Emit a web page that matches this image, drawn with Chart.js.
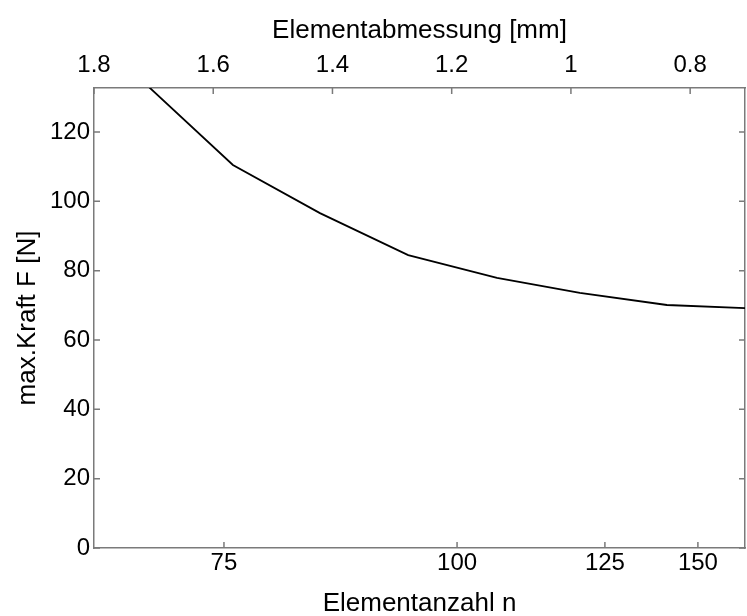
<!DOCTYPE html>
<html>
<head>
<meta charset="utf-8">
<title>max. Kraft über Elementanzahl</title>
<script src="https://cdn.jsdelivr.net/npm/chart.js@4/dist/chart.umd.min.js"></script>
<style>
    body { margin: 0; background: #fff; }
    #wrap { width: 747px; height: 616px; }
</style>
</head>
<body>
<div id="wrap"><canvas id="kraft"></canvas></div>
<script>
/* ==================
    DATEN
================== */

// Elementabmessung [mm] (obere Achse) und max. Kraft F [N]
const elementGroesse = [1.708, 1.567, 1.421, 1.273, 1.124, 0.985, 0.839, 0.708];
const maxKraft = [133.0, 110.5, 96.6, 84.5, 77.9, 73.6, 70.1, 69.2];

// Untere Achse: Elementanzahl n, an welcher Abmessung der Strich sitzt
const anzahlTicks = [75, 100, 125, 150];
const anzahlTickLage = [1.582, 1.191, 0.943, 0.787];

const groesseTicks = [1.8, 1.6, 1.4, 1.2, 1, 0.8];
const kraftTicks = [0, 20, 40, 60, 80, 100, 120];

const xMin = 0.708, xMax = 1.8;
const yMin = 0, yMax = 132.7;

/* ==================
    HILFSSACHEN
================== */

const familie = '"Liberation Sans", Arial, Helvetica, sans-serif';
const tickSchrift = { family: familie, size: 24 };
const titelSchrift = { family: familie, size: 26 };
const achsFarbe = '#7a7a7a';

// Striche nach innen wie bei MATLAB
const innenTicks = {
    id: 'innenTicks',
    afterDatasetsDraw(chart) {
        const { ctx, chartArea: a, scales } = chart;
        const len = 6;
        ctx.save();
        ctx.strokeStyle = achsFarbe;
        ctx.lineWidth = 1.5;
        ctx.beginPath();
        scales.y.ticks.forEach(t => {
            const py = scales.y.getPixelForValue(t.value);
            ctx.moveTo(a.left, py); ctx.lineTo(a.left + len, py);
            ctx.moveTo(a.right, py); ctx.lineTo(a.right - len, py);
        });
        scales.x.ticks.forEach(t => {
            const px = scales.x.getPixelForValue(t.value);
            ctx.moveTo(px, a.bottom); ctx.lineTo(px, a.bottom - len);
        });
        scales.xTop.ticks.forEach(t => {
            const px = scales.xTop.getPixelForValue(t.value);
            ctx.moveTo(px, a.top); ctx.lineTo(px, a.top + len);
        });
        ctx.stroke();
        ctx.restore();
    }
};

const ohneGitter = { drawOnChartArea: false, drawTicks: false };
const rand = { display: true, color: achsFarbe, width: 1.5 };

/* ==================
    GRAFIK
================== */

new Chart(document.getElementById('kraft').getContext('2d'), {
    type: 'line',
    data: {
        datasets: [{
            label: 'max. Kraft F',
            data: elementGroesse.map((g, i) => ({ x: g, y: maxKraft[i] })),
            borderColor: '#000',
            borderWidth: 1.8,
            pointRadius: 0,
            tension: 0,
            fill: false,
            xAxisID: 'x',
            yAxisID: 'y'
        }]
    },
    options: {
        responsive: true,
        maintainAspectRatio: false,
        animation: false,
        layout: { padding: 0 },
        plugins: {
            legend: { display: false },
            tooltip: { enabled: false }
        },
        scales: {
            x: {
                type: 'linear',
                position: 'bottom',
                reverse: true,
                min: xMin,
                max: xMax,
                grid: ohneGitter,
                border: rand,
                afterBuildTicks: s => { s.ticks = anzahlTickLage.map(v => ({ value: v })); },
                afterFit: s => { s.height = 68; },
                ticks: {
                    color: '#000',
                    font: tickSchrift,
                    padding: 1,
                    maxRotation: 0,
                    autoSkip: false,
                    callback: (v, i) => anzahlTicks[i]
                },
                title: {
                    display: true,
                    text: 'Elementanzahl n',
                    color: '#000',
                    font: titelSchrift,
                    padding: { top: 0, bottom: -3 }
                }
            },
            xTop: {
                type: 'linear',
                position: 'top',
                reverse: true,
                min: xMin,
                max: xMax,
                grid: ohneGitter,
                border: rand,
                afterBuildTicks: s => { s.ticks = groesseTicks.map(v => ({ value: v })); },
                afterFit: s => { s.height = 88; },
                ticks: {
                    color: '#000',
                    font: tickSchrift,
                    padding: 8,
                    maxRotation: 0,
                    autoSkip: false,
                    callback: v => String(v)
                },
                title: {
                    display: true,
                    text: 'Elementabmessung [mm]',
                    color: '#000',
                    font: titelSchrift,
                    padding: { top: 15, bottom: 0 }
                }
            },
            y: {
                type: 'linear',
                position: 'left',
                min: yMin,
                max: yMax,
                grid: ohneGitter,
                border: rand,
                afterBuildTicks: s => { s.ticks = kraftTicks.map(v => ({ value: v })); },
                afterFit: s => { s.width = 94; },
                ticks: {
                    color: '#000',
                    font: tickSchrift,
                    padding: 4
                },
                title: {
                    display: true,
                    text: 'max.Kraft F [N]',
                    color: '#000',
                    font: titelSchrift,
                    padding: { top: 12, bottom: 0 }
                }
            },
            yRechts: {
                type: 'linear',
                position: 'right',
                min: yMin,
                max: yMax,
                grid: ohneGitter,
                border: rand,
                ticks: { display: false },
                afterFit: s => { s.width = 2; }
            }
        }
    },
    plugins: [innenTicks]
});
</script>
</body>
</html>
